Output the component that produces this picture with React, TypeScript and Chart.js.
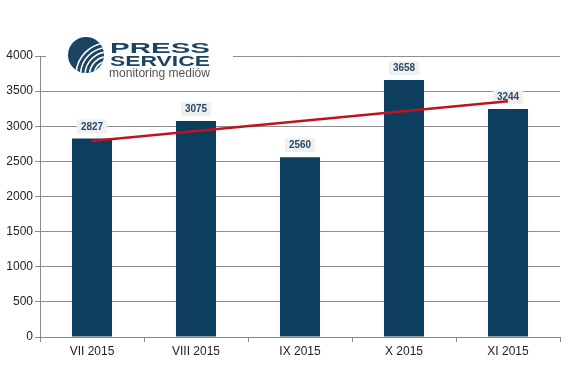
import React, { useEffect, useRef } from "react";
import { Chart, registerables } from "chart.js";

Chart.register(...registerables);

const categories = ["VII 2015", "VIII 2015", "IX 2015", "X 2015", "XI 2015"];
const values = [2827, 3075, 2560, 3658, 3244];
const trend = [2790, null, null, null, 3356];
const yTicks = [0, 500, 1000, 1500, 2000, 2500, 3000, 3500, 4000];

const NAVY = "#0e3e5f";
const FONT = "'Liberation Sans', Arial, sans-serif";

const labelPlugin = {
  id: "barLabels",
  afterDatasetDraw(chart: any, args: any) {
    if (args.index !== 0) return;
    const ctx = chart.ctx;
    const meta = chart.getDatasetMeta(0);
    ctx.save();
    ctx.font = `bold 10px ${FONT}`;
    ctx.textAlign = "center";
    ctx.textBaseline = "middle";
    meta.data.forEach((bar: any, i: number) => {
      const txt = String(values[i]);
      const w = ctx.measureText(txt).width + 8;
      const h = 14;
      const cx = bar.x;
      const cy = bar.y - 12;
      ctx.fillStyle = "#f0f0f0";
      ctx.fillRect(cx - w / 2, cy - h / 2, w, h);
      ctx.fillStyle = "#2a4a66";
      ctx.fillText(txt, cx, cy + 0.5);
    });
    ctx.restore();
  },
};

const logoPlugin = {
  id: "logo",
  afterDraw(chart: any) {
    const ctx = chart.ctx;
    ctx.save();
    ctx.fillStyle = "#ffffff";
    ctx.fillRect(46, 34, 187, 50);
    // circle icon
    const cx = 86, cy = 55, r = 18;
    ctx.beginPath();
    ctx.arc(cx, cy, r, 0, Math.PI * 2);
    ctx.fillStyle = "#1b4462";
    ctx.fill();
    ctx.save();
    ctx.beginPath();
    ctx.arc(cx, cy, r, 0, Math.PI * 2);
    ctx.clip();
    ctx.strokeStyle = "#ffffff";
    ctx.lineWidth = 1.6;
    for (let k = 0; k < 5; k++) {
      ctx.beginPath();
      const rr = 14 + k * 4.5;
      ctx.arc(cx + 22, cy + 20, rr, Math.PI * 1.02, Math.PI * 1.48);
      ctx.stroke();
    }
    ctx.restore();
    // text
    const drawFit = (txt: string, x: number, y: number, w: number, font: string, color: string) => {
      ctx.font = font;
      const m = ctx.measureText(txt).width;
      ctx.save();
      ctx.translate(x, y);
      ctx.scale(w / m, 1);
      ctx.fillStyle = color;
      ctx.textAlign = "left";
      ctx.textBaseline = "alphabetic";
      ctx.fillText(txt, 0, 0);
      ctx.restore();
    };
    drawFit("PRESS", 110, 53, 100, `bold 14.5px ${FONT}`, "#1b4462");
    drawFit("SERVICE", 110, 66, 100, `bold 14.5px ${FONT}`, "#1b4462");
    drawFit("monitoring mediów", 109, 77, 101, `12px ${FONT}`, "#555555");
    ctx.restore();
  },
};

export default function App() {
  const ref = useRef<HTMLCanvasElement>(null);
  useEffect(() => {
    if (!ref.current) return;
    const chart = new Chart(ref.current, {
      type: "bar",
      data: {
        labels: categories,
        datasets: [
          {
            type: "bar",
            data: values,
            backgroundColor: NAVY,
            categoryPercentage: 1,
            barPercentage: 0.385,
            order: 1,
          },
          {
            type: "line",
            data: trend as any,
            borderColor: "#c0141c",
            borderWidth: 2.5,
            pointRadius: 0,
            spanGaps: true,
            fill: false,
            order: 0,
          } as any,
        ],
      },
      options: {
        animation: false,
        responsive: false,
        maintainAspectRatio: false,
        layout: { padding: { top: 56, right: 20, left: 0, bottom: 0 } },
        plugins: { legend: { display: false }, tooltip: { enabled: false } },
        scales: {
          x: {
            offset: true,
            grid: {
              offset: true,
              drawOnChartArea: false,
              drawTicks: true,
              tickLength: 5,
              color: "#8a8a8a",
            },
            border: { color: "#8a8a8a", width: 1 },
            ticks: {
              color: "#222222",
              font: { family: FONT, size: 12 },
              padding: 2,
            },
            afterFit: (s: any) => {
              s.height = 47;
            },
          },
          y: {
            min: 0,
            max: 4000,
            afterBuildTicks: (s: any) => {
              s.ticks = yTicks.map((v) => ({ value: v }));
            },
            grid: {
              color: "#8f8f8f",
              tickLength: 5,
              drawTicks: true,
            },
            border: { color: "#8a8a8a", width: 1 },
            ticks: {
              color: "#222222",
              font: { family: FONT, size: 12 },
              padding: 2,
              callback: (v: any) => String(v),
            },
            afterFit: (s: any) => {
              s.width = 40;
            },
          },
        },
      },
      plugins: [labelPlugin, logoPlugin],
    });
    return () => chart.destroy();
  }, []);
  return (
    <div style={{ position: "fixed", left: 0, top: 0, width: 580, height: 384, background: "#fff" }}>
      <canvas ref={ref} width={580} height={384} style={{ width: 580, height: 384, display: "block" }} />
    </div>
  );
}
